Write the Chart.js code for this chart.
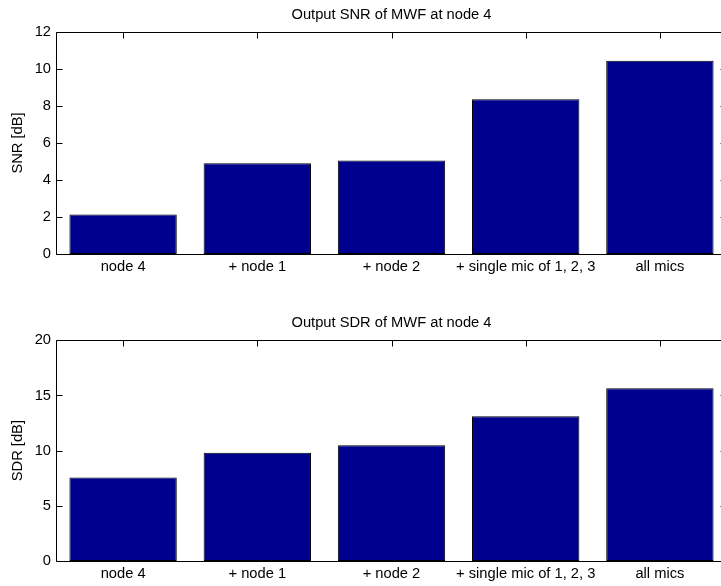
<!DOCTYPE html>
<html>
<head>
<meta charset="utf-8">
<script src="https://cdn.jsdelivr.net/npm/chart.js@4/dist/chart.umd.min.js"></script>
<style>
  html, body { margin: 0; padding: 0; background: #fff; overflow: hidden; width: 721px; height: 586px; }
  .panel { position: absolute; left: 0; width: 740px; height: 293px; }
  canvas { display: block; }
</style>
</head>
<body>
<div class="panel" style="top:0"><canvas id="snrChart" width="740" height="293"></canvas></div>
<div class="panel" style="top:293px"><canvas id="sdrChart" width="740" height="293"></canvas></div>
<script>
// Microphone configurations compared
const configurations = ['node 4', '+ node 1', '+ node 2', '+ single mic of 1, 2, 3', 'all mics'];

// Output SNR of the MWF at node 4 [dB]
const snrValues = [2.14, 4.90, 5.06, 8.37, 10.44];
// Output SDR of the MWF at node 4 [dB]
const sdrValues = [7.57, 9.80, 10.50, 13.12, 15.66];

// Axis limits and tick spacing
const snrAxis = { min: 0, max: 12, step: 2 };
const sdrAxis = { min: 0, max: 20, step: 5 };

const FONT = '"Liberation Sans", Arial, Helvetica, sans-serif';
const FONT_SIZE = 14.7;
const BAR_FILL = 'rgb(0,0,143)';

// Box around the plot area with inward-pointing tick marks on all four sides
const boxAxes = {
  id: 'boxAxes',
  beforeDatasetsDraw(chart) {
    const { ctx, chartArea: a, scales: { x, y } } = chart;
    const L = Math.round(a.left) + 0.5, R = Math.round(a.right) + 0.5;
    const T = Math.round(a.top) + 0.5, B = Math.round(a.bottom) + 0.5;
    const len = 6;
    ctx.save();
    ctx.strokeStyle = '#000';
    ctx.lineWidth = 1;
    ctx.beginPath();
    x.ticks.forEach((t, i) => {
      const px = Math.round(x.getPixelForTick(i)) + 0.5;
      ctx.moveTo(px, T); ctx.lineTo(px, T + len);
      ctx.moveTo(px, B); ctx.lineTo(px, B - len);
    });
    y.ticks.forEach((t, i) => {
      const py = Math.round(y.getPixelForTick(i)) + 0.5;
      ctx.moveTo(L, py); ctx.lineTo(L + len, py);
      ctx.moveTo(R, py); ctx.lineTo(R - len - 1, py);
    });
    ctx.stroke();
    ctx.beginPath();
    ctx.rect(L, T, R - L, B - T);
    ctx.stroke();
    ctx.restore();
  }
};

// Axes title centred over the plot area
const axesTitle = {
  id: 'axesTitle',
  afterDraw(chart, args, opts) {
    const { ctx, chartArea: a } = chart;
    ctx.save();
    ctx.fillStyle = '#000';
    ctx.font = FONT_SIZE + 'px ' + FONT;
    ctx.textAlign = 'center';
    ctx.textBaseline = 'middle';
    ctx.fillText(opts.text, (a.left + a.right) / 2, a.top - 17);
    ctx.restore();
  }
};

function makeChart(id, title, yLabel, values, axis, padTop, xHeight) {
  return new Chart(document.getElementById(id), {
    type: 'bar',
    data: {
      labels: configurations,
      datasets: [{
        data: values,
        backgroundColor: BAR_FILL,
        borderColor: '#000',
        borderWidth: 1,
        borderSkipped: false,
        categoryPercentage: 1.0,
        barPercentage: 0.8
      }]
    },
    options: {
      responsive: false,
      devicePixelRatio: 1,
      animation: false,
      events: [],
      layout: { padding: { left: 0, right: 13, top: padTop, bottom: 0 } },
      plugins: {
        legend: { display: false },
        tooltip: { enabled: false },
        title: { display: false },
        axesTitle: { text: title }
      },
      scales: {
        x: {
          type: 'category',
          offset: true,
          grid: { display: false, drawTicks: false },
          border: { display: false },
          ticks: {
            color: '#000',
            font: { family: FONT, size: FONT_SIZE },
            padding: 4,
            maxRotation: 0,
            autoSkip: false
          },
          afterFit(scale) { scale.height = xHeight; }
        },
        y: {
          min: axis.min,
          max: axis.max,
          grid: { display: false, drawTicks: false },
          border: { display: false },
          ticks: {
            stepSize: axis.step,
            color: '#000',
            font: { family: FONT, size: FONT_SIZE },
            padding: 5
          },
          title: {
            display: true,
            text: yLabel,
            color: '#000',
            font: { family: FONT, size: FONT_SIZE },
            padding: { top: 9.5, bottom: 0 }
          },
          afterFit(scale) { scale.width = 56; }
        }
      }
    },
    plugins: [boxAxes, axesTitle]
  });
}

makeChart('snrChart', 'Output SNR of MWF at node 4', 'SNR [dB]', snrValues, snrAxis, 32, 39);
makeChart('sdrChart', 'Output SDR of MWF at node 4', 'SDR [dB]', sdrValues, sdrAxis, 47.3, 25);
</script>
</body>
</html>
